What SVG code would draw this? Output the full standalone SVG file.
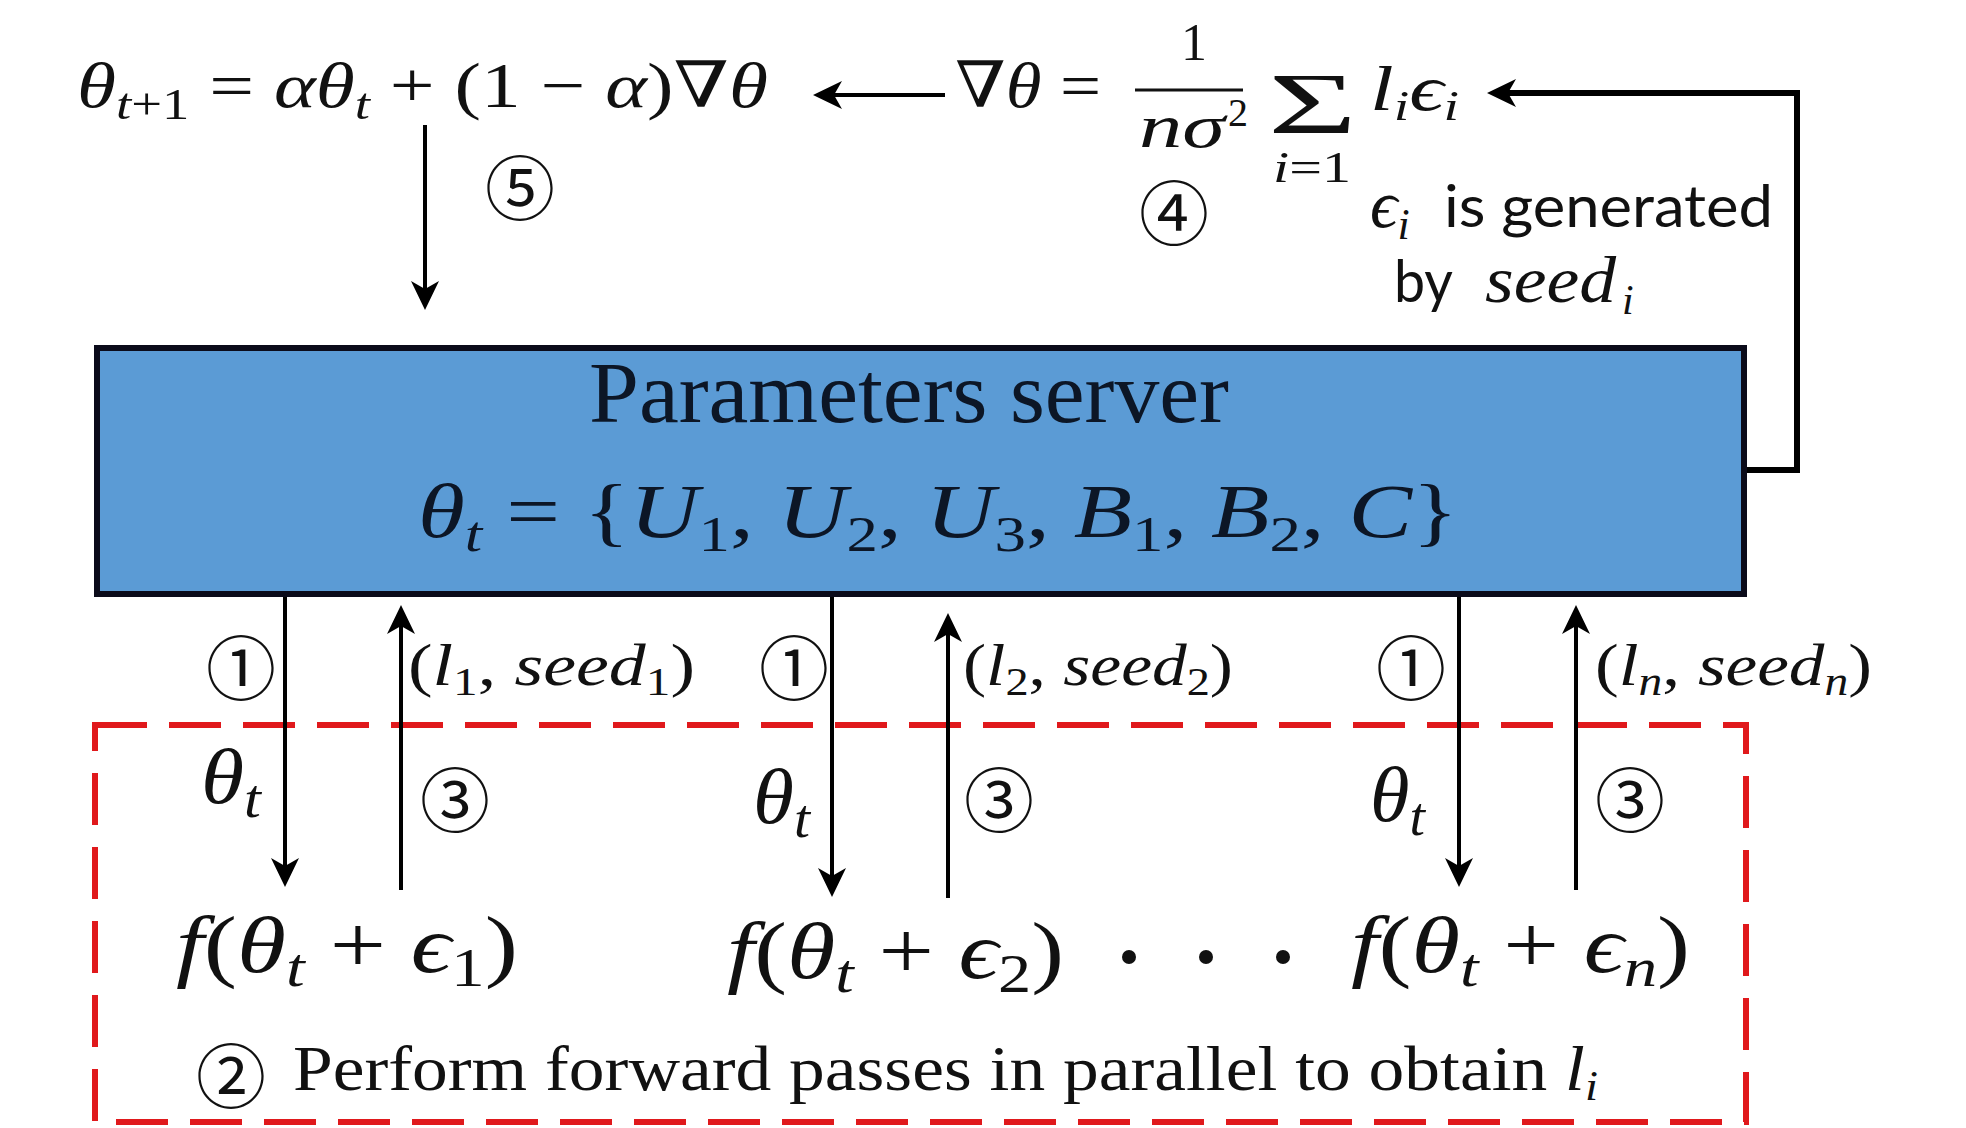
<svg xmlns="http://www.w3.org/2000/svg" width="1966" height="1128" viewBox="0 0 1966 1128">
<style>
.m{font-family:"Liberation Serif","DejaVu Serif",serif;fill:#111}
.i{font-style:italic}
.s{font-family:"Lato","Liberation Sans",sans-serif;fill:#111}
.c{font-family:"Noto Sans CJK SC","DejaVu Sans",sans-serif;fill:#111;text-anchor:middle}
.ln{stroke:#000;stroke-width:4;fill:none}
</style>
<defs>
<marker id="ah" markerUnits="userSpaceOnUse" markerWidth="32" markerHeight="32" refX="18" refY="14" orient="auto">
<path d="M0 0 L29 14 L0 28 L8 14 Z" fill="#000"/>
</marker>
</defs>
<rect width="1966" height="1128" fill="#fff"/>

<g id="update-formula">
<text class="m" x="77" y="107" font-size="64" textLength="691" lengthAdjust="spacingAndGlyphs"><tspan class="i">θ</tspan><tspan font-size="44" dy="12"><tspan class="i">t</tspan>+1</tspan><tspan dy="-12"> = </tspan><tspan class="i">αθ</tspan><tspan class="i" font-size="44" dy="12">t</tspan><tspan dy="-12"> + (1 − </tspan><tspan class="i">α</tspan>)∇<tspan class="i">θ</tspan></text>
<text class="c" x="520" y="215" font-size="70">⑤</text>
</g>

<g id="gradient-formula">
<text class="m" x="955" y="107" font-size="64" textLength="146" lengthAdjust="spacingAndGlyphs">∇<tspan class="i">θ</tspan> =</text>
<text class="m" x="1194" y="60" font-size="52" text-anchor="middle">1</text>
<line x1="1135" y1="90" x2="1243" y2="90" stroke="#111" stroke-width="3"/>
<text class="m i" x="1139" y="147" font-size="62" textLength="86" lengthAdjust="spacingAndGlyphs">nσ</text>
<text class="m" x="1228" y="126" font-size="40">2</text>
<text class="m" x="1268" y="133" font-size="86" textLength="89" lengthAdjust="spacingAndGlyphs">Σ</text>
<text class="m" x="1273" y="182" font-size="44" textLength="78" lengthAdjust="spacingAndGlyphs"><tspan class="i">i</tspan>=1</text>
<text class="m" x="1370" y="110" font-size="64" textLength="89" lengthAdjust="spacingAndGlyphs"><tspan class="i">l</tspan><tspan class="i" font-size="42" dy="10">i</tspan><tspan class="i" dy="-10">ϵ</tspan><tspan class="i" font-size="42" dy="10">i</tspan></text>
<text class="c" x="1174" y="240" font-size="70">④</text>
</g>

<g id="seed-note">
<text class="m i" x="1370" y="227" font-size="68">ϵ<tspan font-size="44" dy="12">i</tspan></text>
<text class="s" x="1444" y="227" font-size="58" textLength="329" lengthAdjust="spacingAndGlyphs">is generated</text>
<text class="s" x="1394" y="302" font-size="58" textLength="59" lengthAdjust="spacingAndGlyphs">by</text>
<text class="m i" x="1485" y="302" font-size="66" textLength="131" lengthAdjust="spacingAndGlyphs">seed</text>
<text class="m i" x="1622" y="314" font-size="42">i</text>
</g>

<g id="worker-box">
<rect x="95" y="725" width="1651" height="397" fill="none" stroke="#E0191C" stroke-width="6" stroke-dasharray="52 22"/>
<text class="c" x="231" y="1103" font-size="70">②</text>
<text class="m" x="293" y="1090" font-size="64" textLength="1305" lengthAdjust="spacingAndGlyphs">Perform forward passes in parallel to obtain <tspan class="i">l</tspan><tspan class="i" font-size="42" dy="10">i</tspan></text>
</g>

<g id="server">
<rect x="97" y="348" width="1647" height="246" fill="#5B9BD5" stroke="#0b0b1a" stroke-width="6"/>
<text class="m" x="589" y="422" font-size="86" textLength="640" lengthAdjust="spacingAndGlyphs" style="fill:#0c1626">Parameters server</text>
<text class="m" x="418" y="537" font-size="76" textLength="1040" lengthAdjust="spacingAndGlyphs" style="fill:#0c1626"><tspan class="i">θ</tspan><tspan class="i" font-size="50" dy="14">t</tspan><tspan dy="-14"> = {</tspan><tspan class="i">U</tspan><tspan font-size="50" dy="14">1</tspan><tspan dy="-14">, </tspan><tspan class="i">U</tspan><tspan font-size="50" dy="14">2</tspan><tspan dy="-14">, </tspan><tspan class="i">U</tspan><tspan font-size="50" dy="14">3</tspan><tspan dy="-14">, </tspan><tspan class="i">B</tspan><tspan font-size="50" dy="14">1</tspan><tspan dy="-14">, </tspan><tspan class="i">B</tspan><tspan font-size="50" dy="14">2</tspan><tspan dy="-14">, </tspan><tspan class="i">C</tspan>}</text>
</g>

<g id="worker-1">
<text class="m" x="176" y="972" font-size="80" textLength="342" lengthAdjust="spacingAndGlyphs"><tspan class="i">f</tspan>(<tspan class="i">θ</tspan><tspan class="i" font-size="54" dy="14">t</tspan><tspan dy="-14"> + </tspan><tspan class="i">ϵ</tspan><tspan font-size="54" dy="14">1</tspan><tspan dy="-14">)</tspan></text>
</g>
<g id="worker-2">
<text class="m" x="727" y="978" font-size="80" textLength="337" lengthAdjust="spacingAndGlyphs"><tspan class="i">f</tspan>(<tspan class="i">θ</tspan><tspan class="i" font-size="54" dy="14">t</tspan><tspan dy="-14"> + </tspan><tspan class="i">ϵ</tspan><tspan font-size="54" dy="14">2</tspan><tspan dy="-14">)</tspan></text>
</g>
<g id="ellipsis">
<circle cx="1129" cy="957" r="7" fill="#111"/>
<circle cx="1206" cy="957" r="7" fill="#111"/>
<circle cx="1283" cy="957" r="7" fill="#111"/>
</g>
<g id="worker-n">
<text class="m" x="1351" y="972" font-size="80" textLength="339" lengthAdjust="spacingAndGlyphs"><tspan class="i">f</tspan>(<tspan class="i">θ</tspan><tspan class="i" font-size="54" dy="14">t</tspan><tspan dy="-14"> + </tspan><tspan class="i">ϵ</tspan><tspan class="i" font-size="54" dy="14">n</tspan><tspan dy="-14">)</tspan></text>
</g>

<g id="connectors">
<path class="ln" d="M945 95 H824" marker-end="url(#ah)"/>
<path class="ln" d="M425 125 V299" marker-end="url(#ah)"/>
<path d="M1747 470 H1797 V93 H1498" fill="none" stroke="#000" stroke-width="6" marker-end="url(#ah)"/>
<path class="ln" d="M285 597 V876" marker-end="url(#ah)"/>
<path class="ln" d="M832 597 V886" marker-end="url(#ah)"/>
<path class="ln" d="M1459 597 V876" marker-end="url(#ah)"/>
<path class="ln" d="M401 890 V616" marker-end="url(#ah)"/>
<path class="ln" d="M948 898 V624" marker-end="url(#ah)"/>
<path class="ln" d="M1576 890 V616" marker-end="url(#ah)"/>
</g>

<g id="labels">
<text class="c" x="241" y="695" font-size="70">①</text>
<text class="c" x="794" y="695" font-size="70">①</text>
<text class="c" x="1411" y="695" font-size="70">①</text>
<text class="m" x="408" y="685" font-size="60" textLength="287" lengthAdjust="spacingAndGlyphs">(<tspan class="i">l</tspan><tspan font-size="40" dy="10">1</tspan><tspan dy="-10">, </tspan><tspan class="i">seed</tspan><tspan font-size="40" dy="10">1</tspan><tspan dy="-10">)</tspan></text>
<text class="m" x="963" y="685" font-size="60" textLength="270" lengthAdjust="spacingAndGlyphs">(<tspan class="i">l</tspan><tspan font-size="40" dy="10">2</tspan><tspan dy="-10">, </tspan><tspan class="i">seed</tspan><tspan font-size="40" dy="10">2</tspan><tspan dy="-10">)</tspan></text>
<text class="m" x="1595" y="685" font-size="60" textLength="277" lengthAdjust="spacingAndGlyphs">(<tspan class="i">l</tspan><tspan class="i" font-size="40" dy="10">n</tspan><tspan dy="-10">, </tspan><tspan class="i">seed</tspan><tspan class="i" font-size="40" dy="10">n</tspan><tspan dy="-10">)</tspan></text>
<text class="m i" x="201" y="803" font-size="78" textLength="60" lengthAdjust="spacingAndGlyphs">θ<tspan font-size="54" dy="14">t</tspan></text>
<text class="m i" x="753" y="823" font-size="78" textLength="57" lengthAdjust="spacingAndGlyphs">θ<tspan font-size="54" dy="14">t</tspan></text>
<text class="m i" x="1370" y="821" font-size="78" textLength="55" lengthAdjust="spacingAndGlyphs">θ<tspan font-size="54" dy="14">t</tspan></text>
<text class="c" x="455" y="827" font-size="70">③</text>
<text class="c" x="999" y="827" font-size="70">③</text>
<text class="c" x="1630" y="827" font-size="70">③</text>
</g>
</svg>
